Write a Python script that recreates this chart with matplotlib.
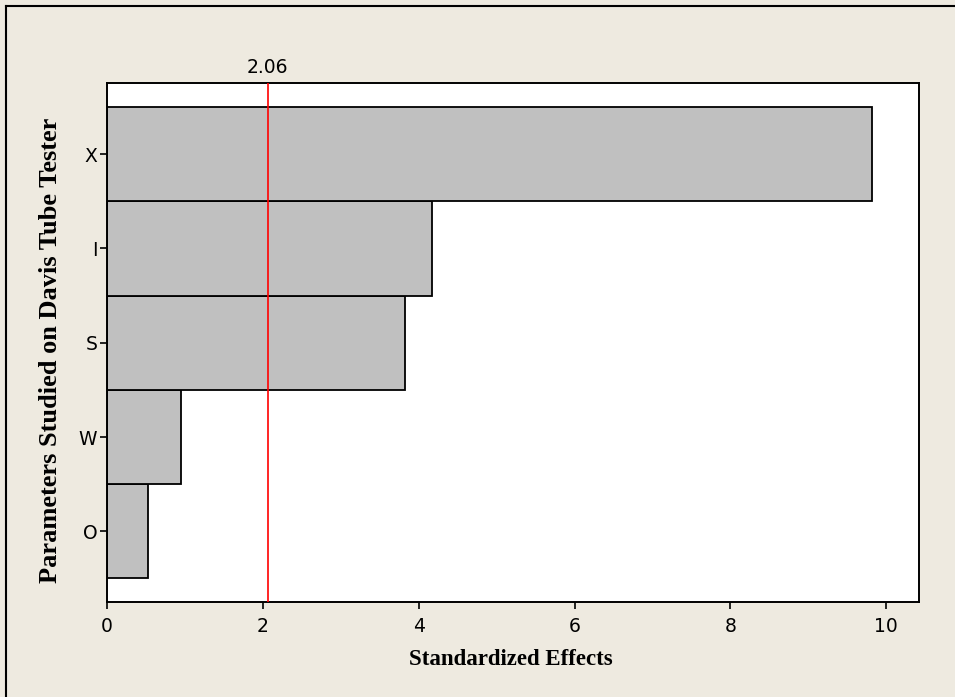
import matplotlib
matplotlib.use("Agg")
import matplotlib.pyplot as plt
from matplotlib.lines import Line2D

categories = ["O", "W", "S", "I", "X"]
effects = [0.53, 0.95, 3.83, 4.17, 9.82]
threshold = 2.06
xticks = [0, 2, 4, 6, 8, 10]

W, H = 955, 697
fig = plt.figure(figsize=(W / 100, H / 100), dpi=100, facecolor="#EEEAE0")
ax = fig.add_axes([107 / W, 1 - 602 / H, (919 - 107) / W, (602 - 83) / H])
ax.set_facecolor("white")

ax.barh(range(len(categories)), effects, height=1.0, color="#C0C0C0",
        edgecolor="black", linewidth=1.3, zorder=2)
ax.axvline(threshold, color="red", linewidth=1.2, zorder=3)
ax.text(threshold, 1.012, f"{threshold:.2f}", transform=ax.get_xaxis_transform(),
        ha="center", va="bottom", fontsize=13.5, family="DejaVu Sans")

ax.set_xlim(0, 10.42)
ax.set_ylim(-0.75, 4.755)
ax.set_xticks(xticks)
ax.set_xticklabels([str(t) for t in xticks])
ax.set_yticks(range(len(categories)))
ax.set_yticklabels(categories)
ax.tick_params(axis="both", labelsize=13.5, length=5, width=1.2, color="black")
ax.tick_params(axis="x", pad=6)
ax.tick_params(axis="y", pad=2)
for s in ax.spines.values():
    s.set_linewidth(1.4)

ax.set_xlabel("Standardized Effects", fontsize=16.5, fontweight="bold",
              family="Liberation Serif")
ax.xaxis.set_label_coords(0.4975, -0.091)
ax.set_ylabel("Parameters Studied on Davis Tube Tester", fontsize=19,
              fontweight="bold", family="Liberation Serif")
ax.yaxis.set_label_coords(-0.056, 0.484)

fig.add_artist(Line2D([6 / W, 1], [1 - 6 / H, 1 - 6 / H], color="black", linewidth=1.5))
fig.add_artist(Line2D([6 / W, 6 / W], [0, 1 - 6 / H], color="black", linewidth=1.5))

fig.savefig("out.png", dpi=100, facecolor=fig.get_facecolor())
